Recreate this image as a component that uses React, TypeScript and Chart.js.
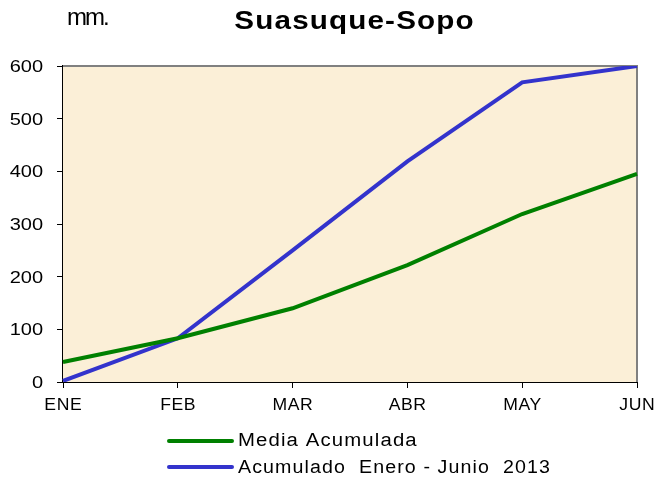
import React, { useEffect, useRef } from "react";
import { Chart, registerables } from "chart.js";

Chart.register(...registerables);

const months = ["ENE", "FEB", "MAR", "ABR", "MAY", "JUN"];
const mediaAcumulada = [38, 83, 140, 222, 319, 395];
const acumulado2013 = [2, 83, 250, 419, 569, 600];
const yTicks = [0, 100, 200, 300, 400, 500, 600];
const seriesLabels = ["Media Acumulada", "Acumulado  Enero - Junio  2013"];
const title = "Suasuque-Sopo";
const unitLabel = "mm.";

const FONT = "'Liberation Sans', Arial, sans-serif";

function stretchedText(
  ctx: CanvasRenderingContext2D,
  text: string,
  x: number,
  y: number,
  align: "left" | "center" | "right",
  sx: number,
  font: string,
  ls: number
) {
  ctx.save();
  ctx.font = font;
  (ctx as any).letterSpacing = `${ls}px`;
  ctx.textAlign = "left";
  ctx.textBaseline = "alphabetic";
  const w = ctx.measureText(text).width - ls;
  ctx.translate(x, y);
  ctx.scale(sx, 1);
  const off = align === "left" ? 0 : align === "center" ? -w / 2 : -w;
  ctx.fillText(text, off, 0);
  ctx.restore();
}

const decorPlugin = {
  id: "decor",
  beforeDatasetsDraw(chart: any) {
    const { ctx, chartArea: a } = chart;
    ctx.save();
    ctx.fillStyle = "#FBEFD7";
    ctx.fillRect(a.left, a.top, a.right - a.left, a.bottom - a.top);
    ctx.strokeStyle = "#808080";
    ctx.lineWidth = 2;
    ctx.beginPath();
    ctx.moveTo(a.left, a.top);
    ctx.lineTo(a.right, a.top);
    ctx.lineTo(a.right, a.bottom);
    ctx.stroke();
    ctx.restore();
  },
  afterDraw(chart: any) {
    const { ctx } = chart;
    const xs = chart.scales.x;
    const ys = chart.scales.y;
    ctx.save();
    ctx.fillStyle = "#000";
    // axis tick labels
    months.forEach((m, i) => {
      stretchedText(ctx, m, xs.getPixelForValue(i), 410, "center", 1.1, `16px ${FONT}`, 0.5);
    });
    yTicks.forEach((v) => {
      stretchedText(ctx, String(v), 43, ys.getPixelForValue(v) + 6, "right", 1.25, `16px ${FONT}`, 0);
    });
    // title and unit
    stretchedText(ctx, title, 354, 29, "center", 1.14, `bold 26px ${FONT}`, 1);
    stretchedText(ctx, unitLabel, 67, 25, "left", 1, `24px ${FONT}`, -2);
    // legend
    const lineY = [441, 467];
    const textY = [446, 473];
    const legendSx = [1.13, 1.09];
    chart.data.datasets.forEach((ds: any, i: number) => {
      ctx.strokeStyle = ds.borderColor;
      ctx.lineWidth = 4;
      ctx.lineCap = "round";
      ctx.beginPath();
      ctx.moveTo(169, lineY[i]);
      ctx.lineTo(232, lineY[i]);
      ctx.stroke();
      ctx.fillStyle = "#000";
      stretchedText(ctx, seriesLabels[i], 238, textY[i], "left", legendSx[i], `18px ${FONT}`, 1);
    });
    ctx.restore();
  },
};

export default function App() {
  const ref = useRef<HTMLCanvasElement>(null);
  useEffect(() => {
    if (!ref.current) return;
    const chart = new Chart(ref.current, {
      type: "line",
      data: {
        labels: months,
        datasets: [
          {
            label: seriesLabels[0],
            data: mediaAcumulada,
            borderColor: "#008000",
            borderWidth: 4,
            pointRadius: 0,
            tension: 0,
          },
          {
            label: seriesLabels[1],
            data: acumulado2013,
            borderColor: "#3333CC",
            borderWidth: 4,
            pointRadius: 0,
            tension: 0,
          },
        ],
      },
      plugins: [decorPlugin],
      options: {
        animation: false,
        responsive: false,
        maintainAspectRatio: false,
        layout: { padding: { left: 0, right: 19, top: 66, bottom: 0 } },
        plugins: { legend: { display: false }, title: { display: false }, tooltip: { enabled: false } },
        scales: {
          x: {
            offset: false,
            afterFit: (s: any) => {
              s.height = 95;
              s.paddingLeft = 0;
              s.paddingRight = 0;
            },
            grid: { drawOnChartArea: false, tickLength: 6, color: "#000", tickColor: "#000" },
            border: { color: "#000", width: 2 },
            ticks: { display: false, autoSkip: false, maxRotation: 0 },
          },
          y: {
            min: 0,
            max: 600,
            afterFit: (s: any) => {
              s.width = 63;
            },
            afterBuildTicks: (s: any) => {
              s.ticks = yTicks.map((v) => ({ value: v }));
            },
            grid: { drawOnChartArea: false, tickLength: 6, color: "#000", tickColor: "#000" },
            border: { color: "#000", width: 2 },
            ticks: { display: false },
          },
        },
      },
    });
    return () => chart.destroy();
  }, []);
  return (
    <div style={{ position: "fixed", left: 0, top: 0, width: 656, height: 477, background: "#fff" }}>
      <canvas ref={ref} width={656} height={477} style={{ width: 656, height: 477 }} />
    </div>
  );
}
